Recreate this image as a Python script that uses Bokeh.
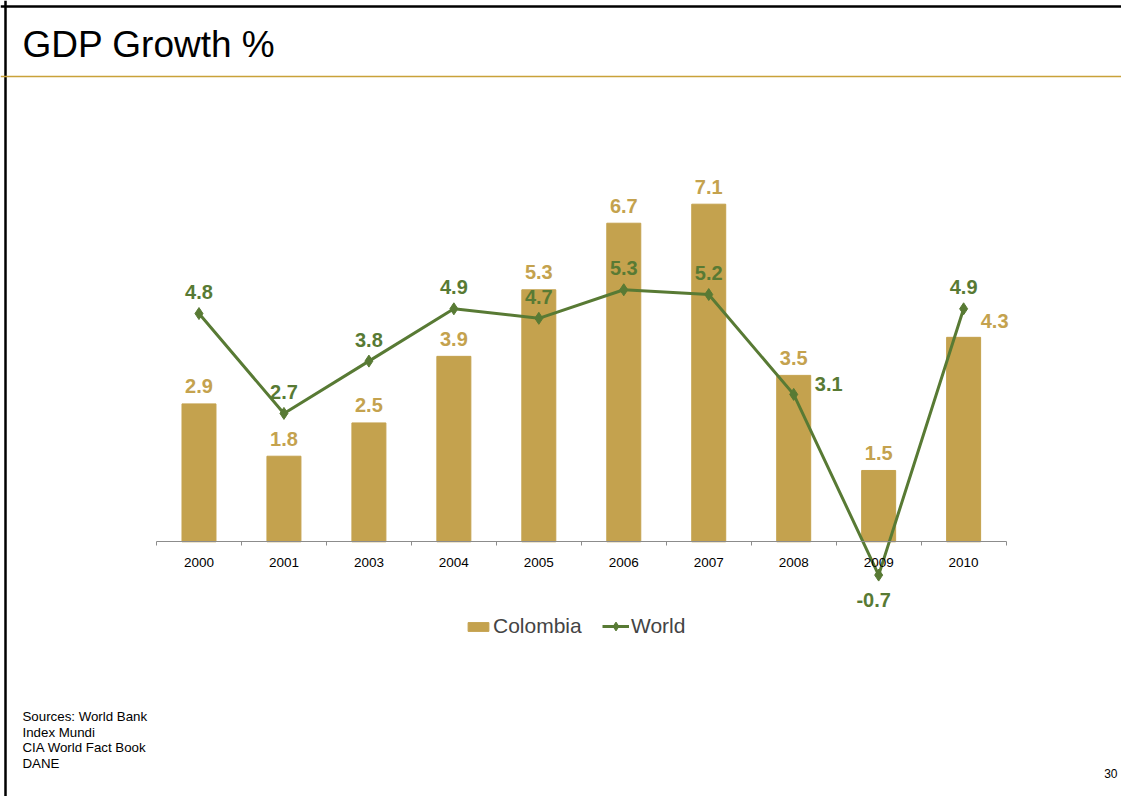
from bokeh.plotting import figure
from bokeh.models import (ColumnDataSource, Range1d, LinearAxis, FixedTicker, Legend,
                          LegendItem, Label, Span)
from bokeh.core.properties import value
from bokeh.embed import file_html
from bokeh.resources import INLINE

# ---------------- data ----------------
years = ["2000", "2001", "2003", "2004", "2005", "2006", "2007", "2008", "2009", "2010"]
colombia = [2.9, 1.8, 2.5, 3.9, 5.3, 6.7, 7.1, 3.5, 1.5, 4.3]
world = [4.8, 2.7, 3.8, 4.9, 4.7, 5.3, 5.2, 3.1, -0.7, 4.9]
sources = ["Sources: World Bank", "Index Mundi", "CIA World Fact Book", "DANE"]
title_text = "GDP Growth %"
page_no = "30"

# label offsets (style, screen px)
col_dx = [0, 0, 0, 0, 0, 0, 0, 0, 0, 31]
col_dy = [-17.5] * 9 + [-16]
wld_dx = [0, 0, 0, 0, 0, 0, 0, 35, -5, 0]
wld_dy = [-21.5] * 7 + [-10, 25, -21.5]

GOLD = "#C4A24E"
GREEN = "#587A34"
FONT = "Liberation Sans"

W, H = 1121, 796
n = len(years)
centers = [2 * i + 1 for i in range(n)]       # each category spans 2 units
bounds = [2 * i for i in range(n + 1)]

src_c = ColumnDataSource(dict(x=centers, top=colombia, lab=[f"{v:.1f}" for v in colombia],
                              dx=col_dx, dy=col_dy))
src_w = ColumnDataSource(dict(x=centers, y=world, lab=[f"{v:.1f}" for v in world],
                              dx=wld_dx, dy=wld_dy))

px_x = 42.48
px_y = 47.55
x0 = -156 / px_x
y1 = 541.3 / px_y
p = figure(width=W, height=H, output_backend="svg", toolbar_location=None,
           x_range=Range1d(x0, x0 + W / px_x), y_range=Range1d(y1 - H / px_y, y1),
           x_axis_location=None, y_axis_location=None, min_border=0,
           outline_line_color=None, background_fill_color="white", border_fill_color="white")
p.xgrid.visible = False
p.ygrid.visible = False

# x axis at y = 0
ax = LinearAxis(ticker=FixedTicker(ticks=centers, minor_ticks=bounds), fixed_location=0,
                bounds=(0, 2 * n))
ax.major_label_overrides = {c: y for c, y in zip(centers, years)}
ax.axis_line_color = "#8C8C8C"
ax.axis_line_width = 1.2
ax.major_tick_line_color = None
ax.major_tick_out = 0
ax.major_tick_in = 0
ax.minor_tick_line_color = "#8C8C8C"
ax.minor_tick_out = 4
ax.minor_tick_in = 0
ax.major_label_standoff = 12
ax.major_label_text_font = FONT
ax.major_label_text_font_size = "13.5px"
ax.major_label_text_color = "black"
p.add_layout(ax, "below")

bars = p.vbar(x="x", top="top", width=0.8, source=src_c, fill_color=GOLD, line_color=GOLD)
ln = p.line(x="x", y="y", source=src_w, line_color=GREEN, line_width=3)
mk = p.scatter(x="x", y="y", source=src_w, marker="diamond", size=12,
               fill_color=GREEN, line_color=GREEN)

p.text(x="x", y="top", text="lab", source=src_c, x_offset="dx", y_offset="dy",
       text_align="center", text_baseline="middle", text_font=value(FONT),
       text_font_size="20px", text_font_style="bold", text_color=GOLD)
p.text(x="x", y="y", text="lab", source=src_w, x_offset="dx", y_offset="dy",
       text_align="center", text_baseline="middle", text_font=value(FONT),
       text_font_size="20px", text_font_style="bold", text_color=GREEN)

leg_style = dict(orientation="horizontal", label_standoff=2, padding=0, margin=0,
                 border_line_color=None, background_fill_alpha=0,
                 label_text_font=FONT, label_text_font_size="21px", label_height=22,
                 label_text_baseline="middle")
legend_c = Legend(items=[LegendItem(label="Colombia", renderers=[bars])],
                  location=(465, 158), glyph_width=26, glyph_height=11, **leg_style)
legend_w = Legend(items=[LegendItem(label="World", renderers=[ln, mk])],
                  location=(602, 158), glyph_width=27, glyph_height=22, **leg_style)
p.add_layout(legend_c, "center")
p.add_layout(legend_w, "center")

# slide decorations
p.add_layout(Span(location=H - 6, location_units="screen", dimension="width",
                  line_color="black", line_width=2.5))
p.add_layout(Span(location=5, location_units="screen", dimension="height",
                  line_color="black", line_width=2.5))
p.add_layout(Span(location=H - 76, location_units="screen", dimension="width",
                  line_color="#C9A23A", line_width=1.3))

p.add_layout(Label(x=22, y=H - 44, x_units="screen", y_units="screen", text=title_text,
                   text_font=FONT, text_font_size="37px", text_color="black",
                   text_baseline="alphabetic"))
for i, s in enumerate(sources):
    p.add_layout(Label(x=22, y=H - 716 - 15.5 * i, x_units="screen", y_units="screen", text=s,
                       text_font=FONT, text_font_size="13.3px", text_color="black",
                       text_baseline="alphabetic"))
p.add_layout(Label(x=W - 4, y=H - 773, x_units="screen", y_units="screen", text=page_no,
                   text_font=FONT, text_font_size="12px", text_color="black",
                   text_align="right", text_baseline="alphabetic"))

open("out.html", "w").write(file_html(p, INLINE))
